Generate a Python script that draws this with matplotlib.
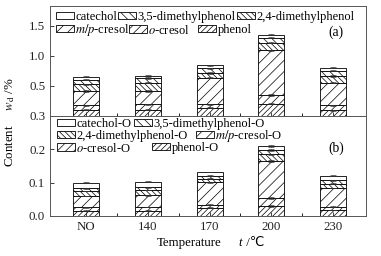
import matplotlib
matplotlib.use("Agg")
import matplotlib.pyplot as plt
import numpy as np

plt.rcParams['font.family'] = ['Liberation Serif', 'DejaVu Serif']
plt.rcParams['mathtext.fontset'] = 'stix'
plt.rcParams['hatch.linewidth'] = 0.5
plt.rcParams['hatch.color'] = '#444444'

categories = ['NO', '140', '170', '200', '230']

# upper panel (a), stacked from bottom
phenol     = [0.10, 0.10, 0.13, 0.20, 0.085]
o_cresol   = [0.07, 0.085, 0.06, 0.14, 0.085]
mp_cresol  = [0.24, 0.225, 0.44, 0.75, 0.38]
dmp24      = [0.11, 0.14, 0.08, 0.13, 0.11]
dmp35      = [0.08, 0.07, 0.08, 0.08, 0.09]
catechol   = [0.05, 0.04, 0.05, 0.05, 0.05]
err_a      = [0.015, 0.015, 0.015, 0.02, 0.015]

# lower panel (b), stacked from bottom
phenol_O    = [0.016, 0.016, 0.025, 0.030, 0.018]
o_cresol_O  = [0.010, 0.011, 0.009, 0.024, 0.010]
mp_cresol_O = [0.034, 0.035, 0.067, 0.111, 0.056]
dmp24_O     = [0.015, 0.016, 0.011, 0.020, 0.013]
dmp35_O     = [0.008, 0.008, 0.009, 0.013, 0.010]
catechol_O  = [0.017, 0.017, 0.011, 0.012, 0.014]
err_b       = [0.002, 0.002, 0.002, 0.003, 0.002]

names_a = ['phenol', '$o$-cresol', '$m/p$-cresol', '2,4-dimethylphenol', '3,5-dimethylphenol', 'catechol']
names_b = ['phenol-O', '$o$-cresol-O', '$m/p$-cresol-O', '2,4-dimethylphenol-O', '3,5-dimethylphenol-O', 'catechol-O']
hatches = ['//////', '////', '///', '\\\\\\\\\\\\', '\\\\\\\\', '']

W, H = 381, 256
fig = plt.figure(figsize=(W/100, H/100), dpi=100)
L, R = 50/W, 366/W
ax1 = fig.add_axes([L, 1-115.5/H, R-L, (115.5-6)/H])
ax2 = fig.add_axes([L, 1-216/H, R-L, (216-116)/H])

x = np.arange(len(categories))
w = 0.42
FS = 9.3
LFS = 9.0

def draw(ax, series, names, err):
    bottom = np.zeros(len(categories))
    handles = {}
    for vals, name, h in zip(series, names, hatches):
        vals = np.array(vals)
        b = ax.bar(x, vals, w, bottom=bottom, facecolor='white', edgecolor='black',
                   linewidth=0.6, hatch=h, label=name)
        ax.errorbar(x, bottom + vals, yerr=np.array(err) * 0.6, fmt='none', ecolor='#333333',
                    elinewidth=0.5, capsize=2, capthick=0.5)
        handles[name] = b
        bottom = bottom + vals
    return handles

ha = draw(ax1, [phenol, o_cresol, mp_cresol, dmp24, dmp35, catechol], names_a, err_a)
hb = draw(ax2, [phenol_O, o_cresol_O, mp_cresol_O, dmp24_O, dmp35_O, catechol_O], names_b, err_b)

for ax in (ax1, ax2):
    ax.set_xlim(-0.58, 4.53)
    ax.set_xticks(x)
    ax.set_xticks(x[:-1] + 0.5, minor=True)
    ax.tick_params(direction='in', length=3, width=0.6, labelsize=FS, colors='#222222')
    ax.tick_params(which='minor', direction='in', length=2, width=0.6)
    for s in ax.spines.values():
        s.set_linewidth(0.7)
        s.set_color('#555555')

ax1.set_ylim(0, 1.83)
ax1.set_yticks([0.5, 1.0, 1.5])
ax1.set_yticklabels(['0.5', '1.0', '1.5'])
ax1.set_xticklabels([])
ax2.set_ylim(0, 0.3)
ax2.set_yticks([0.0, 0.1, 0.2, 0.3])
ax2.set_yticklabels(['0.0', '0.1', '0.2', '0.3'])
ax2.set_xticklabels(categories)

def entry(handle, label, xpx, ypx):
    fig.legend([handle], [label], loc='center left',
               bbox_to_anchor=(xpx/W, 1-ypx/H), bbox_transform=fig.transFigure,
               frameon=False, fontsize=LFS, handlelength=1.4, handleheight=0.55,
               handletextpad=0.15, borderpad=0, borderaxespad=0)

# upper legend entries (handle left x, row centre y) in pixels
entry(ha['catechol'], 'catechol', 56, 17)
entry(ha['3,5-dimethylphenol'], '3,5-dimethylphenol', 118, 17)
entry(ha['2,4-dimethylphenol'], '2,4-dimethylphenol', 237, 17)
entry(ha['$m/p$-cresol'], '$m/p$-cresol', 56, 30)
entry(ha['$o$-cresol'], '$o$-cresol', 129, 30)
entry(ha['phenol'], 'phenol', 198, 30)

# lower legend entries
entry(hb['catechol-O'], 'catechol-O', 57, 124)
entry(hb['3,5-dimethylphenol-O'], '3,5-dimethylphenol-O', 134, 124)
entry(hb['2,4-dimethylphenol-O'], '2,4-dimethylphenol-O', 57, 136)
entry(hb['$m/p$-cresol-O'], '$m/p$-cresol-O', 196, 136)
entry(hb['$o$-cresol-O'], '$o$-cresol-O', 57, 148)
entry(hb['phenol-O'], 'phenol-O', 152, 148)

fig.text(336/W, 1-32/H, '(a)', fontsize=FS+0.5, ha='center', va='center')
fig.text(336/W, 1-148/H, '(b)', fontsize=FS+0.5, ha='center', va='center')

fig.text(10/W, 1-122/H, 'Content     $w_\\mathrm{d}$ /%', rotation=90, ha='center', va='center', fontsize=FS)
fig.text(222/W, 1-243/H, 'Temperature', ha='right', va='center', fontsize=FS)
fig.text(240/W, 1-243/H, 't', ha='center', va='center', fontsize=FS, style='italic')
fig.text(243/W, 1-243/H, ' /\u2103', ha='left', va='center', fontsize=FS,
         family=['Liberation Serif', 'DejaVu Sans'])

fig.savefig('out.png', dpi=100)
